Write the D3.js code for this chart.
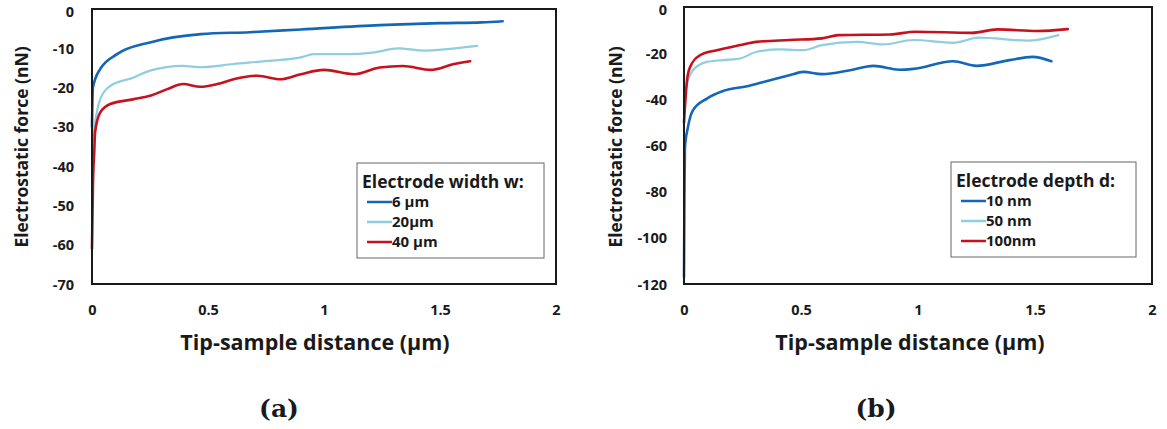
<!DOCTYPE html>
<html><head><meta charset="utf-8">
<script src="https://cdn.jsdelivr.net/npm/d3@7"></script>
<style>
html,body{margin:0;padding:0;background:#fff;}
svg{display:block;}
text{font-family:"Open Sans",Lato,sans-serif;font-weight:700;fill:#1a1a1a;}
</style></head>
<body>
<svg id="chart" width="1167" height="429"></svg>
<script>
// ---------- DATA ----------
const xTicks = [0, 0.5, 1, 1.5, 2];
const xTickLabels = ["0", "0.5", "1", "1.5", "2"];
const aYTicks = [0, -10, -20, -30, -40, -50, -60, -70];
const bYTicks = [0, -20, -40, -60, -80, -100, -120];
const xTitle = "Tip-sample distance (µm)";
const yTitle = "Electrostatic force (nN)";

const aLegendTitle = "Electrode width w:";
const aNames = ["6 µm", "20µm", "40 µm"];
const a6um = [[0,-30],[0.004,-20],[0.035,-15.3],[0.108,-11.5],[0.25,-8.5],[0.47,-6.4],[0.68,-5.9],[0.9,-5.2],[1.24,-4.1],[1.5,-3.6],[1.68,-3.4],[1.77,-3.1]];
const a20um = [[0,-35],[0.013,-29],[0.035,-23],[0.078,-19.6],[0.177,-17.5],[0.25,-15.7],[0.39,-14.5],[0.47,-14.8],[0.61,-14.0],[0.76,-13.2],[0.9,-12.3],[0.955,-11.5],[1.1,-11.5],[1.21,-11.1],[1.32,-10.0],[1.43,-10.6],[1.53,-10.2],[1.66,-9.4]];
const a40um = [[0,-61],[0.004,-45],[0.01,-36],[0.013,-31.5],[0.035,-26.4],[0.078,-24.2],[0.177,-23.0],[0.25,-22.1],[0.324,-20.4],[0.393,-19.1],[0.467,-19.8],[0.54,-19.1],[0.61,-17.9],[0.713,-17.0],[0.81,-17.9],[0.9,-16.6],[1.0,-15.5],[1.13,-16.6],[1.24,-14.9],[1.34,-14.5],[1.46,-15.5],[1.56,-14.0],[1.63,-13.3]];

const bLegendTitle = "Electrode depth d:";
const bNames = ["10 nm", "50 nm", "100nm"];
const b10nm = [[0,-117],[0.002,-80],[0.004,-61],[0.017,-52],[0.038,-44.8],[0.098,-39.7],[0.167,-36.4],[0.27,-34.3],[0.34,-32.5],[0.45,-29.6],[0.51,-28.1],[0.59,-29.1],[0.71,-27.4],[0.81,-25.5],[0.92,-27.2],[0.98,-26.8],[1.15,-23.5],[1.25,-25.5],[1.39,-23.0],[1.49,-21.6],[1.57,-23.5]];
const b50nm = [[0,-40],[0.017,-31.7],[0.038,-27.4],[0.098,-23.8],[0.167,-23.0],[0.24,-22.3],[0.31,-19.4],[0.41,-18.4],[0.51,-18.7],[0.59,-16.5],[0.74,-15.1],[0.85,-16.2],[0.98,-14.3],[1.15,-15.5],[1.26,-13.3],[1.47,-14.6],[1.6,-12.2]];
const b100nm = [[0,-50],[0.013,-31.7],[0.026,-26],[0.068,-20.9],[0.14,-18.7],[0.24,-16.5],[0.31,-15.1],[0.45,-14.3],[0.59,-13.6],[0.66,-12.2],[0.88,-11.9],[0.99,-10.7],[1.23,-11.2],[1.34,-9.7],[1.51,-10.4],[1.64,-9.6]];

const seriesColors = ["#1467b8", "#8fcde0", "#c8101e"];
const panelLabels = ["(a)", "(b)"];

// ---------- DRAW ----------
const svg = d3.select("#chart");

function panel(cfg) {
  const g = svg.append("g");
  const x = d3.scaleLinear().domain([0, 2]).range([cfg.left, cfg.right]);
  const y = d3.scaleLinear().domain([0, cfg.yMin]).range([cfg.top, cfg.bottom]);

  const yAxis = d3.axisLeft(y).tickValues(cfg.yTicks).tickSize(0).tickPadding(0).tickFormat(d => d);
  const ya = g.append("g").attr("transform", `translate(${cfg.yLabelX},0)`).call(yAxis);
  ya.select(".domain").remove();
  ya.selectAll("text").style("font-size", "14.5px").style("font-family", "'Open Sans'").style("font-weight", "700")
    .attr("dy", d => (y(d) < 12 ? "0.5em" : "0.35em"));

  const xAxis = d3.axisBottom(x).tickValues(xTicks).tickSize(0).tickPadding(0).tickFormat((d, i) => xTickLabels[i]);
  const xa = g.append("g").attr("transform", `translate(0,${cfg.xLabelY})`).call(xAxis);
  xa.select(".domain").remove();
  xa.selectAll("text").style("font-size", "14.5px").style("font-family", "'Open Sans'").style("font-weight", "700").attr("dy", "0.35em");

  const line = d3.line().x(d => x(d[0])).y(d => y(d[1])).curve(d3.curveMonotoneX);
  cfg.series.forEach((s, i) => {
    g.append("path").datum(s).attr("d", line)
      .attr("fill", "none").attr("stroke", seriesColors[i])
      .attr("stroke-width", i === 1 ? 2.2 : 2.6).attr("stroke-linejoin", "round").attr("stroke-linecap", "round");
  });

  g.append("rect").attr("x", x(0)).attr("y", y(0)).attr("width", x(2) - x(0)).attr("height", y(cfg.yMin) - y(0))
    .attr("fill", "none").attr("stroke", "#1a1a1a").attr("stroke-width", 2);

  const lg = g.append("g").attr("transform", `translate(${cfg.legX},${cfg.legY})`);
  lg.append("rect").attr("width", cfg.legW).attr("height", 95).attr("fill", "#fff").attr("stroke", "#666").attr("stroke-width", 1);
  lg.append("text").attr("x", 5).attr("y", 25).style("font-size", "17.5px").text(cfg.legTitle);
  cfg.names.forEach((n, i) => {
    const yy = 39 + i * 20;
    lg.append("line").attr("x1", cfg.legLineX).attr("x2", cfg.legLineX + 25).attr("y1", yy).attr("y2", yy)
      .attr("stroke", seriesColors[i]).attr("stroke-width", 2.5);
    lg.append("text").attr("x", cfg.legLineX + 25).attr("y", yy).attr("dy", "0.35em").style("font-size", "15px").text(n);
  });

  g.append("text").attr("x", cfg.xTitleX).attr("y", 342).attr("dy", "0.35em")
    .attr("text-anchor", "middle").style("font-size", "21.5px").text(xTitle);
  g.append("text").attr("transform", `translate(${cfg.yTitleX},147) rotate(-90)`).attr("dy", "0.35em")
    .attr("text-anchor", "middle").style("font-size", "17.5px").text(yTitle);

  g.append("text").attr("x", cfg.panelX).attr("y", 408).attr("dy", "0.35em").attr("text-anchor", "middle")
    .style("font-family", "'DejaVu Serif',serif").style("font-size", "25px").style("font-weight", "700")
    .text(cfg.panelLabel);
}

panel({left: 92, right: 556, top: 9, bottom: 284, yMin: -70, yTicks: aYTicks, yLabelX: 74, xLabelY: 310,
  series: [a6um, a20um, a40um], names: aNames, legTitle: aLegendTitle,
  legX: 357, legY: 163, legW: 187, legLineX: 10, yTitleX: 22, xTitleX: 315, panelX: 279, panelLabel: panelLabels[0]});

panel({left: 684, right: 1152, top: 7, bottom: 284, yMin: -120, yTicks: bYTicks, yLabelX: 667, xLabelY: 310,
  series: [b10nm, b50nm, b100nm], names: bNames, legTitle: bLegendTitle,
  legX: 951, legY: 162, legW: 185, legLineX: 10, yTitleX: 616, xTitleX: 910, panelX: 876, panelLabel: panelLabels[1]});
</script>
</body></html>
